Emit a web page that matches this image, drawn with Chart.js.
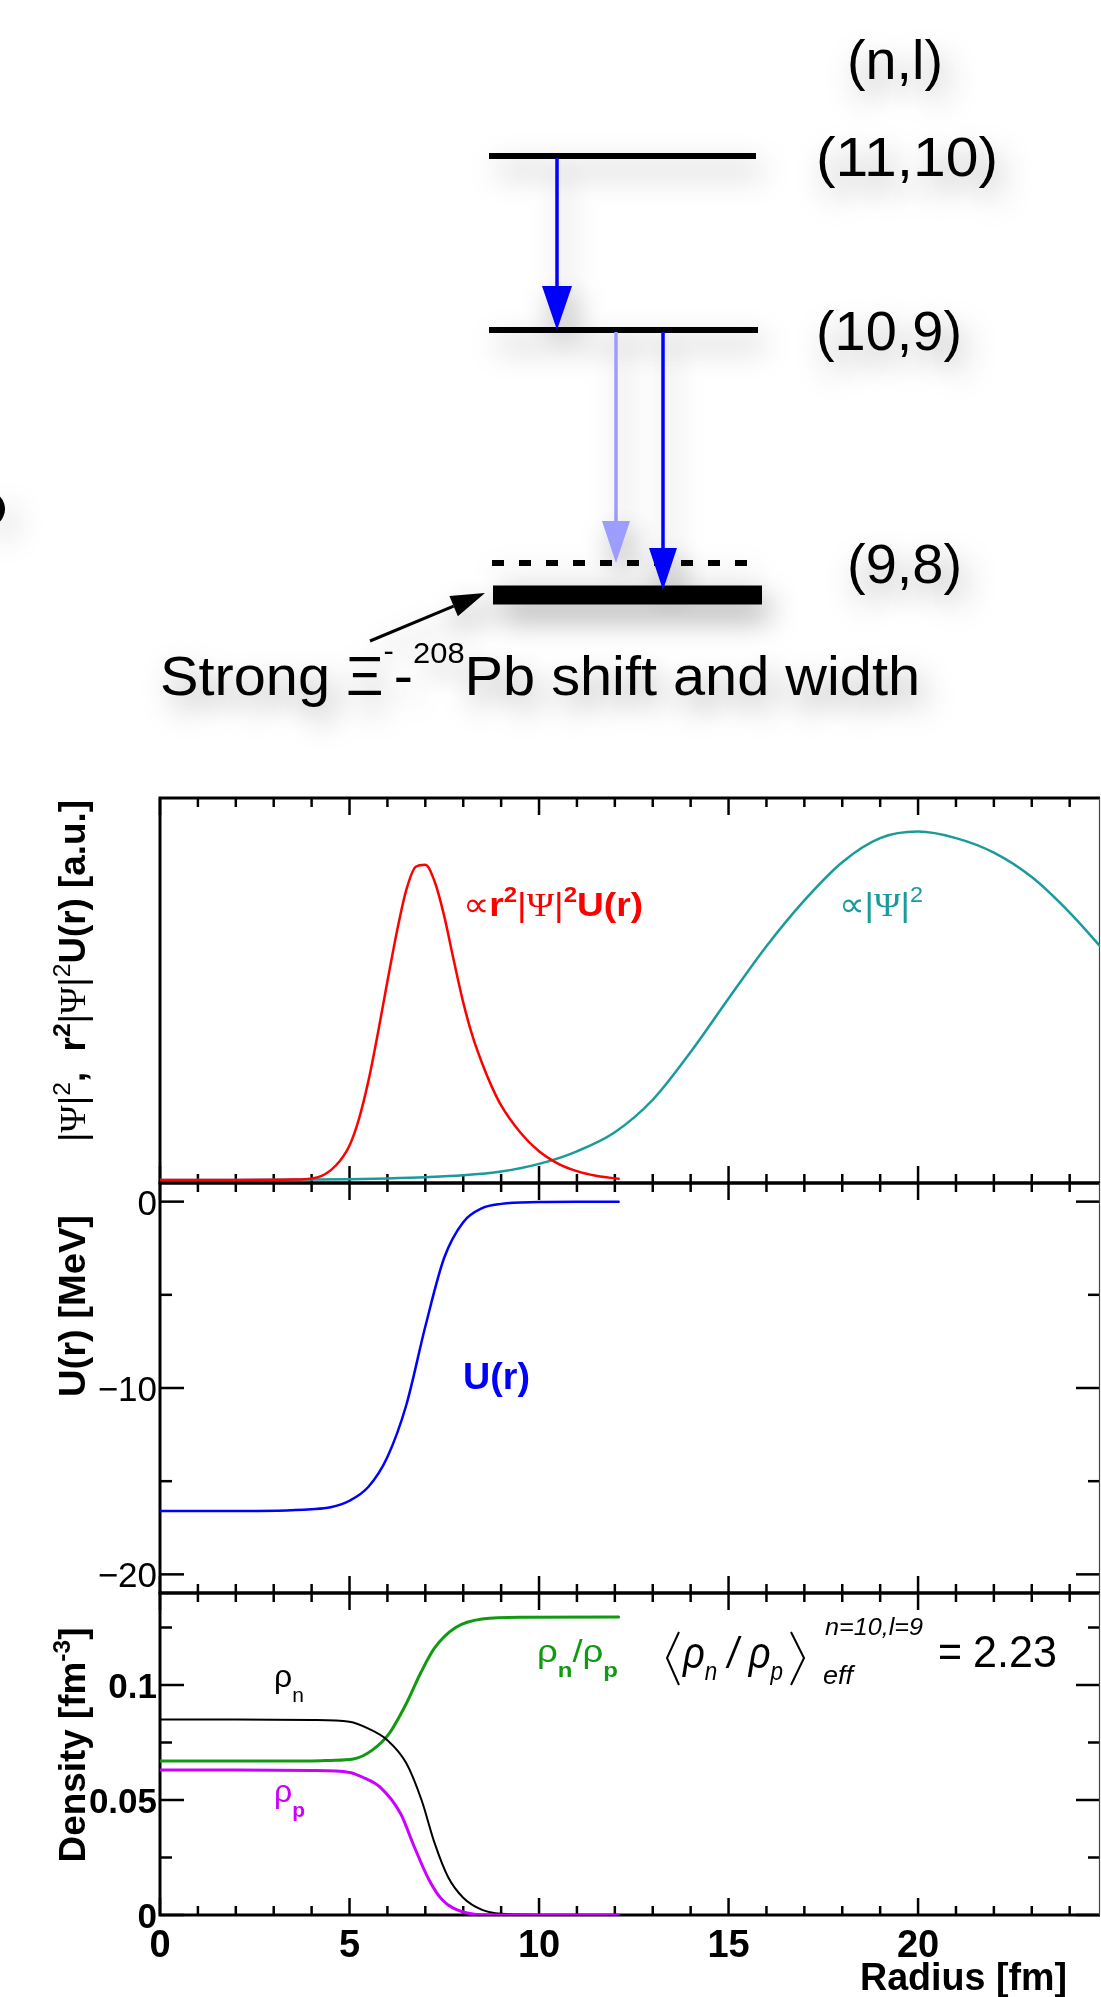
<!DOCTYPE html>
<html lang="en">
<head>
<meta charset="UTF-8">
<title>Xi- 208Pb level scheme and radial profiles</title>
<script src="https://cdn.jsdelivr.net/npm/chart.js"></script>
<style>
  html, body { margin: 0; padding: 0; background: #fff; }
  #page { position: relative; width: 1101px; height: 1997px; overflow: hidden; background: #fff; }
  #page canvas { position: absolute; left: 0; top: 0; }
</style>
</head>
<body>
<div id="page">
  <canvas id="scheme" width="1101" height="1997"></canvas>
  <canvas id="wave" width="1101" height="1997"></canvas>
  <canvas id="pot" width="1101" height="1997"></canvas>
  <canvas id="dens" width="1101" height="1997"></canvas>
</div>
<script>
// ---- level scheme (schematic energies, arbitrary units) ----
const levelNames = ['(11,10)', '(10,9)', '(9,8)'];
const levelE = [60.4, 43.0, 16.5];        // (9,8) drawn with its strong shift
const levelLeft = [48.9, 48.9, 49.3];
const levelRight = [75.6, 75.8, 76.2];
const coulombE = 19.7;                    // dashed: unshifted (9,8)
const coulombSpan = [49.2, 74.8];
const transX = [55.7, 61.6, 66.3];
const transTop = [60.4, 43.0, 43.0];
const transTip = [43.0, 19.7, 17.0];
const transColor = ['#0000ff', '#9d9dff', '#0000ff'];

// ---- radial profiles, r in fm ----
const rRed = [0, 2, 3.5, 4.0, 4.25, 4.5, 4.75, 5.0, 5.25, 5.5, 5.75, 6.0, 6.25, 6.5, 6.75, 7.0, 7.25, 7.5, 7.75, 8.0, 8.25, 8.5, 8.75, 9.0, 9.5, 10.0, 10.5, 11.0, 11.5, 12.1];
const wRed = [0, 0, 0.001, 0.004, 0.010, 0.025, 0.05, 0.09, 0.16, 0.26, 0.385, 0.52, 0.65, 0.76, 0.82, 0.825, 0.78, 0.69, 0.575, 0.465, 0.375, 0.305, 0.245, 0.195, 0.125, 0.075, 0.043, 0.023, 0.011, 0.003];
const rTeal = [0, 2, 4, 5, 6, 7, 8, 9, 10, 11, 12, 13, 14, 15, 16, 17, 18, 19, 20, 21, 22, 23, 24, 25];
const wTeal = [0, 0, 0.001, 0.002, 0.004, 0.007, 0.012, 0.022, 0.042, 0.075, 0.125, 0.21, 0.335, 0.475, 0.612, 0.732, 0.832, 0.895, 0.912, 0.895, 0.857, 0.793, 0.70, 0.59];

const rU = [0, 2, 4, 4.5, 5, 5.5, 6, 6.5, 7, 7.5, 8, 8.5, 9, 10, 11, 12.1];
const uMeV = [-16.6, -16.6, -16.5, -16.4, -16.05, -15.3, -13.7, -10.9, -6.7, -3.0, -1.1, -0.35, -0.12, -0.02, 0, 0];

const rN = [0, 2, 4, 5, 5.5, 6, 6.5, 6.9, 7.25, 7.6, 8, 8.5, 9, 10];
const rhoN = [0.085, 0.085, 0.0848, 0.084, 0.081, 0.076, 0.066, 0.050, 0.031, 0.0165, 0.0075, 0.0022, 0.0005, 0];
const rP = [0, 2, 4, 5, 5.4, 5.8, 6.35, 6.7, 7.1, 7.45, 8.0, 8.7, 10, 12.1];
const rhoP = [0.063, 0.063, 0.0628, 0.062, 0.0595, 0.0557, 0.044, 0.030, 0.0152, 0.0065, 0.0013, 0, 0, 0];
const rG = [0, 2, 4, 4.5, 5.1, 5.6, 6.05, 6.5, 6.87, 7.24, 7.8, 8.5, 9.6, 12.1];
const ratioNP = [0.067, 0.067, 0.067, 0.0672, 0.0678, 0.0717, 0.079, 0.092, 0.105, 0.116, 0.125, 0.1287, 0.1295, 0.1296];

// ---- axes ----
const xMajor = [0, 5, 10, 15, 20];
const xLabels = ['0', '5', '10', '15', '20'];
const xMinor = [0, 1, 2, 3, 4, 5, 6, 7, 8, 9, 10, 11, 12, 13, 14, 15, 16, 17, 18, 19, 20, 21, 22, 23, 24];
const uMajor = [0, -10, -20];
const uLabels = ['0', '\u221210', '\u221220'];
const uMinor = [-5, -15];
const dMajor = [0, 0.05, 0.1];
const dLabels = ['0', '0.05', '0.1'];
const dMinor = [0.025, 0.075, 0.125];

const SANS = '"Liberation Sans", Arial, Helvetica, sans-serif';
const SERIF = '"Liberation Serif", "DejaVu Serif", serif';
const fnt = (w, s, fam) => w + ' ' + s + 'px ' + (fam || SANS);

// text made of pieces (super/subscripts), optionally stretched to a width
function rich(ctx, parts, x, y, o) {
  o = o || {};
  ctx.save();
  ctx.setTransform(1, 0, 0, 1, 0, 0);
  ctx.textAlign = 'left';
  ctx.textBaseline = 'alphabetic';
  let total = 0;
  const ws = parts.map(p => { ctx.font = p.f; const w = ctx.measureText(p.t).width; total += w; return w; });
  const sx = o.width ? o.width / total : 1;
  ctx.translate(x, y);
  if (o.rotate) ctx.rotate(o.rotate);
  ctx.scale(sx, 1);
  let cx = o.align === 'center' ? -total / 2 : (o.align === 'right' ? -total : 0);
  parts.forEach((p, i) => {
    ctx.font = p.f;
    ctx.fillStyle = p.c || o.color || '#000';
    ctx.fillText(p.t, cx, p.dy || 0);
    cx += ws[i];
  });
  ctx.restore();
}

function arrow(ctx, x1, y1, x2, y2, col, lw, hl, hw) {
  const a = Math.atan2(y2 - y1, x2 - x1);
  const bx = x2 - hl * Math.cos(a), by = y2 - hl * Math.sin(a);
  ctx.strokeStyle = col; ctx.fillStyle = col; ctx.lineWidth = lw;
  ctx.beginPath(); ctx.moveTo(x1, y1); ctx.lineTo(bx, by); ctx.stroke();
  ctx.beginPath(); ctx.moveTo(x2, y2);
  ctx.lineTo(bx + hw / 2 * Math.sin(a), by - hw / 2 * Math.cos(a));
  ctx.lineTo(bx - hw / 2 * Math.sin(a), by + hw / 2 * Math.cos(a));
  ctx.closePath(); ctx.fill();
}

function shadow(ctx) {
  ctx.shadowColor = 'rgba(0,0,0,0.38)';
  ctx.shadowBlur = 30;
  ctx.shadowOffsetX = 7;
  ctx.shadowOffsetY = 14;
}

const pts = (xs, ys) => xs.map((x, i) => ({ x: x, y: ys[i] }));

// ================= level scheme =================
const levelSets = levelNames.map((n, i) => ({
  label: n,
  data: [{ x: levelLeft[i], y: levelE[i] }, { x: levelRight[i], y: levelE[i] }],
  borderColor: '#000',
  borderWidth: i === 2 ? 19 : 6,
  borderCapStyle: 'butt',
  pointRadius: 0
}));
levelSets.push({
  label: 'Coulomb (9,8)',
  data: [{ x: coulombSpan[0], y: coulombE }, { x: coulombSpan[1], y: coulombE }],
  borderColor: '#000',
  borderWidth: 6,
  borderDash: [12, 15],
  borderCapStyle: 'butt',
  pointRadius: 0
});

const schemePlugin = {
  id: 'scheme',
  beforeDatasetsDraw(chart) { chart.ctx.save(); shadow(chart.ctx); },
  afterDatasetsDraw(chart) { chart.ctx.restore(); },
  afterDraw(chart) {
    const { ctx, scales: { x, y } } = chart;
    ctx.save();
    shadow(ctx);
    transX.forEach((tx, i) => {
      const px = x.getPixelForValue(tx);
      arrow(ctx, px, y.getPixelForValue(transTop[i]) + 2, px, y.getPixelForValue(transTip[i]),
        transColor[i], 3.5, i === 0 ? 44 : 42, i === 0 ? 30 : 28);
    });
    // pointer to the shifted level
    arrow(ctx, 370, 641, x.getPixelForValue(levelLeft[2]) - 8, y.getPixelForValue(levelE[2]) - 2, '#000', 3, 34, 22);

    const big = fnt('normal', 56);
    rich(ctx, [{ t: '(n,l)', f: big }], 847, 79, { width: 96 });
    rich(ctx, [{ t: levelNames[0], f: big }], 816, y.getPixelForValue(levelE[0]) + 20, { width: 182 });
    rich(ctx, [{ t: levelNames[1], f: big }], 816, y.getPixelForValue(levelE[1]) + 20, { width: 146 });
    rich(ctx, [{ t: levelNames[2], f: big }], 847, y.getPixelForValue(coulombE) + 20, { width: 115 });
    rich(ctx, [
      { t: 'Strong \u039E', f: big },
      { t: '-', f: fnt('normal', 30), dy: -34 },
      { t: '-', f: big },
      { t: '208', f: fnt('normal', 30), dy: -32 },
      { t: 'Pb shift and width', f: big }
    ], 160, 695, { width: 760 });

    // clipped glyph at the left edge of the original figure
    ctx.strokeStyle = '#000';
    ctx.lineWidth = 6;
    ctx.beginPath();
    ctx.arc(-13, 509, 15, -1.1, 1.1);
    ctx.stroke();
    ctx.restore();
  }
};

new Chart(document.getElementById('scheme'), {
  type: 'line',
  data: { datasets: levelSets },
  options: {
    responsive: false, animation: false, devicePixelRatio: 1,
    layout: { padding: { left: 0, right: 0, top: 0, bottom: 1237 } },
    scales: {
      x: { type: 'linear', min: 0, max: 110.1, display: false },
      y: { type: 'linear', min: 0, max: 76, display: false }
    },
    plugins: { legend: { display: false }, tooltip: { enabled: false } }
  },
  plugins: [schemePlugin]
});

// ================= panels =================
function framePlugin(cfg) {
  return {
    id: 'frame',
    beforeDatasetsDraw(chart) {
      const { ctx, chartArea: a, scales: { x, y } } = chart;
      ctx.save();
      ctx.strokeStyle = '#000';
      ctx.lineWidth = 2.5;
      const seg = (x1, y1, x2, y2) => { ctx.beginPath(); ctx.moveTo(x1, y1); ctx.lineTo(x2, y2); ctx.stroke(); };
      xMinor.forEach(v => {
        const px = x.getPixelForValue(v);
        const len = xMajor.includes(v) ? 17 : 9;
        seg(px, a.top, px, a.top + len);
        seg(px, a.bottom, px, a.bottom - len);
      });
      (cfg.yMajor || []).forEach(v => {
        const py = y.getPixelForValue(v);
        seg(a.left, py, a.left + 24, py);
        seg(a.right, py, a.right - 24, py);
      });
      (cfg.yMinor || []).forEach(v => {
        const py = y.getPixelForValue(v);
        seg(a.left, py, a.left + 12, py);
        seg(a.right, py, a.right - 12, py);
      });
      ctx.lineWidth = 3;
      ctx.beginPath();
      ctx.moveTo(a.right, a.top); ctx.lineTo(a.left, a.top);
      ctx.lineTo(a.left, a.bottom); ctx.lineTo(a.right, a.bottom);
      ctx.stroke();
      ctx.lineWidth = 1.2;
      ctx.strokeStyle = '#444';
      seg(a.right - 0.5, a.top, a.right - 0.5, a.bottom);
      ctx.restore();
    },
    afterDraw(chart) {
      const { ctx, scales: { x, y } } = chart;
      ctx.save();
      (cfg.yMajor || []).forEach((v, i) => {
        rich(ctx, [{ t: cfg.yLabels[i], f: cfg.yFont }], 157, y.getPixelForValue(v) + 13, { align: 'right' });
      });
      if (cfg.title) rich(ctx, cfg.title.parts, 85, cfg.title.center, { rotate: -Math.PI / 2, align: 'center', width: cfg.title.len });
      if (cfg.extra) cfg.extra(ctx, x, y);
      ctx.restore();
    }
  };
}

function panel(id, pad, yMin, yMax, datasets, cfg) {
  return new Chart(document.getElementById(id), {
    type: 'line',
    data: { datasets: datasets },
    options: {
      responsive: false, animation: false, devicePixelRatio: 1,
      layout: { padding: pad },
      elements: { point: { radius: 0 }, line: { cubicInterpolationMode: 'monotone', borderCapStyle: 'round' } },
      scales: {
        x: { type: 'linear', min: 0, max: 24.8, display: false },
        y: { type: 'linear', min: yMin, max: yMax, display: false }
      },
      plugins: { legend: { display: false }, tooltip: { enabled: false } }
    },
    plugins: [framePlugin(cfg)]
  });
}

const B36 = fnt('bold', 36), N36 = fnt('normal', 36), PSI36 = fnt('normal', 36, SERIF);

// |Psi|^2 and r^2|Psi|^2 U(r)
panel('wave', { left: 160, right: 1, top: 798, bottom: 814 }, -0.008, 1, [
  { label: 'r2 Psi2 U', data: pts(rRed, wRed), borderColor: '#ff0000', borderWidth: 2.5 },
  { label: 'Psi2', data: pts(rTeal, wTeal), borderColor: '#1a9b9b', borderWidth: 2.5 }
], {
  title: {
    center: 971, len: 342,
    parts: [
      { t: '|', f: N36 }, { t: '\u03A8', f: PSI36 }, { t: '|', f: N36 }, { t: '2', f: fnt('normal', 24), dy: -15 },
      { t: ',  ', f: B36 }, { t: 'r', f: B36 }, { t: '2', f: fnt('bold', 24), dy: -15 },
      { t: '|', f: N36 }, { t: '\u03A8', f: PSI36 }, { t: '|', f: N36 }, { t: '2', f: fnt('normal', 24), dy: -15 },
      { t: 'U(r) [a.u.]', f: B36 }
    ]
  },
  extra(ctx) {
    const b = fnt('bold', 34), n = fnt('normal', 34), s = fnt('normal', 34, SERIF), sup = fnt('bold', 22);
    rich(ctx, [
      { t: '\u221D', f: n }, { t: 'r', f: b }, { t: '2', f: sup, dy: -14 },
      { t: '|', f: n }, { t: '\u03A8', f: s }, { t: '|', f: n }, { t: '2', f: sup, dy: -14 },
      { t: 'U(r)', f: b }
    ], 463, 916, { width: 180, color: '#ff0000' });
    rich(ctx, [
      { t: '\u221D|', f: n }, { t: '\u03A8', f: s }, { t: '|', f: n }, { t: '2', f: fnt('normal', 22), dy: -14 }
    ], 839, 916, { width: 84, color: '#1a9b9b' });
  }
});

// potential U(r)
panel('pot', { left: 160, right: 1, top: 1183, bottom: 404 }, -21, 1, [
  { label: 'U(r)', data: pts(rU, uMeV), borderColor: '#0000ff', borderWidth: 2.5 }
], {
  yMajor: uMajor, yMinor: uMinor, yLabels: uLabels, yFont: fnt('normal', 35),
  title: { center: 1306, len: 182, parts: [{ t: 'U(r) [MeV]', f: B36 }] },
  extra(ctx) {
    rich(ctx, [{ t: 'U(r)', f: B36 }], 463, 1389, { width: 67, color: '#0000ff' });
  }
});

// densities
panel('dens', { left: 160, right: 1, top: 1593, bottom: 82 }, 0, 0.14, [
  { label: 'rho_p', data: pts(rP, rhoP), borderColor: '#cc00ff', borderWidth: 3 },
  { label: 'rho_n', data: pts(rN, rhoN), borderColor: '#000000', borderWidth: 2 },
  { label: 'rho_n/rho_p', data: pts(rG, ratioNP), borderColor: '#119911', borderWidth: 3 }
], {
  yMajor: dMajor, yMinor: dMinor, yLabels: dLabels, yFont: fnt('bold', 35),
  title: {
    center: 1745, len: 235,
    parts: [{ t: 'Density [fm', f: B36 }, { t: '-3', f: fnt('bold', 24), dy: -15 }, { t: ']', f: B36 }]
  },
  extra(ctx, x) {
    // x tick labels and axis title
    xMajor.forEach((v, i) => {
      rich(ctx, [{ t: xLabels[i], f: fnt('bold', 38) }], x.getPixelForValue(v), 1957, { align: 'center' });
    });
    rich(ctx, [{ t: 'Radius [fm]', f: fnt('bold', 38) }], 1067, 1990, { align: 'right', width: 207 });

    const rho = fnt('normal', 32), sub = fnt('normal', 21), subB = fnt('bold', 21);
    rich(ctx, [{ t: '\u03C1', f: rho }, { t: 'n', f: sub, dy: 15 }], 274, 1687, { color: '#000' });
    rich(ctx, [{ t: '\u03C1', f: rho }, { t: 'p', f: subB, dy: 15 }], 274, 1802, { color: '#cc00ff' });
    rich(ctx, [
      { t: '\u03C1', f: rho }, { t: 'n', f: subB, dy: 15 }, { t: '/', f: rho },
      { t: '\u03C1', f: rho }, { t: 'p', f: subB, dy: 15 }
    ], 537, 1662, { width: 81, color: '#119911' });

    // <rho_n / rho_p>_eff^(n=10,l=9) = 2.23
    ctx.strokeStyle = '#000';
    ctx.lineWidth = 2;
    ctx.beginPath(); ctx.moveTo(679, 1632); ctx.lineTo(667, 1658); ctx.lineTo(679, 1685); ctx.stroke();
    ctx.beginPath(); ctx.moveTo(791, 1632); ctx.lineTo(804, 1658); ctx.lineTo(791, 1685); ctx.stroke();
    const it = fnt('italic', 44), itS = fnt('italic', 26);
    rich(ctx, [
      { t: '\u03C1', f: it }, { t: 'n', f: itS, dy: 12 }, { t: ' / ', f: it },
      { t: '\u03C1', f: it }, { t: 'p', f: itS, dy: 12 }
    ], 683, 1668, { width: 100 });
    rich(ctx, [{ t: 'n=10,l=9', f: fnt('italic', 24) }], 825, 1635, { width: 98 });
    rich(ctx, [{ t: 'eff', f: fnt('italic', 25) }], 823, 1684, { width: 30 });
    rich(ctx, [{ t: '=', f: fnt('normal', 44) }], 938, 1667, { width: 24 });
    rich(ctx, [{ t: '2.23', f: fnt('normal', 44) }], 973, 1667, { width: 84 });
  }
});
</script>
</body>
</html>
